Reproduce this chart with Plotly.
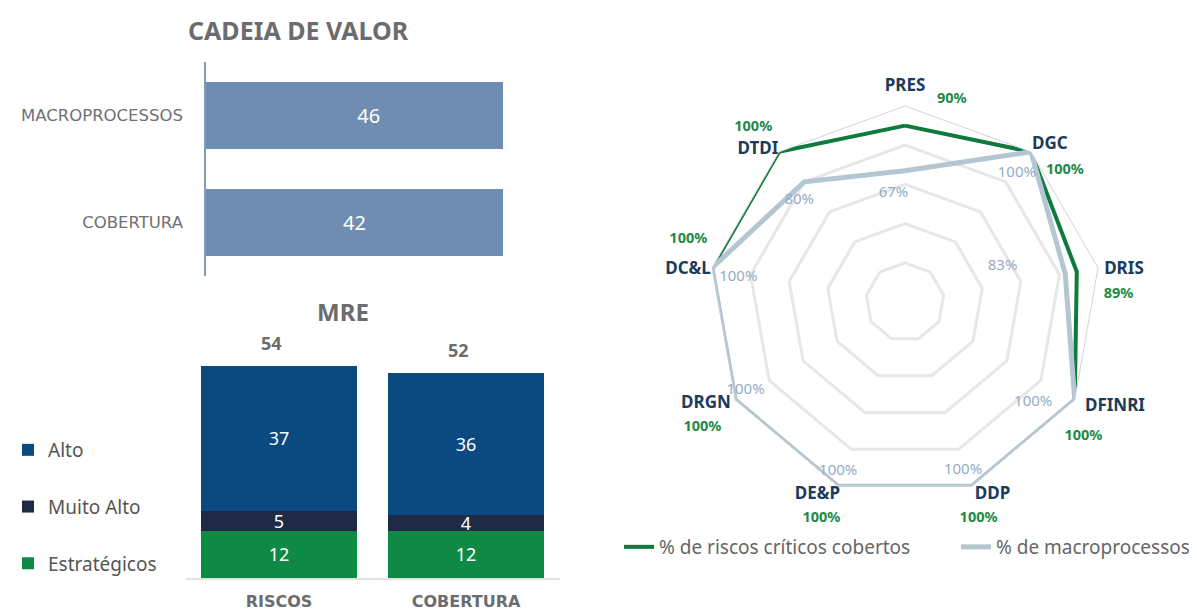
import plotly.graph_objects as go

# ---------------- data ----------------
cadeia_categories = ["MACROPROCESSOS", "COBERTURA"]
cadeia_values = [46, 42]

mre_categories = ["RISCOS", "COBERTURA"]
mre_estrategicos = [12, 12]
mre_muito_alto = [5, 4]
mre_alto = [37, 36]
mre_totals = [54, 52]

radar_categories = ["PRES", "DGC", "DRIS", "DFINRI", "DDP", "DE&P", "DRGN", "DC&L", "DTDI"]
riscos_criticos = [90, 100, 89, 100, 100, 100, 100, 100, 100]
macroprocessos = [67, 100, 83, 100, 100, 100, 100, 100, 80]

# ---------------- label placement (style) ----------------
cat_label_r = [110, 109, 112.9, 119.8, 108.2, 108.2, 114.1, 111.9, 108]
cat_label_theta = [0, 42.7, 81.7, 116.6, 155.6, 204.4, 242.9, 278.4, 316]
green_label_r = [106, 105.6, 109, 114, 116.5, 118.5, 121.5, 115, 118]
green_label_theta = [13, 50.6, 88, 127, 161.2, 201.1, 238.3, 286, 319]
blue_label_r = [56, 87, 53, 83, 91, 93, 93, 86, 75]
blue_label_theta = [354, 41, 70, 128, 161, 201.5, 241, 278.5, 314]

FONT = "Noto Sans, Open Sans, sans-serif"
WIDE = "DejaVu Sans, Noto Sans, sans-serif"
GRAY = "#6b6c6f"

# page body has an 8px margin: figure is placed at (8, 8)
OX, OY = 8, 8
FW, FH = 1189, 602


def px(x):
    return (x - OX) / FW


def py(y):
    return 1 - (y - OY) / FH


fig = go.Figure()

# ---- CADEIA DE VALOR (horizontal bars) ----
fig.add_trace(go.Bar(
    x=cadeia_values, y=cadeia_categories, orientation="h",
    xaxis="x", yaxis="y", width=0.63,
    marker=dict(color="#6f8db0", line=dict(width=0)),
    text=[str(v) for v in cadeia_values], textposition="inside",
    insidetextanchor="middle", constraintext="none", textangle=0,
    textfont=dict(color="white", size=20, family=FONT),
    showlegend=False, hoverinfo="skip", cliponaxis=True,
))

# ---- MRE (stacked bars) ----
mre_series = [
    ("Estratégicos", mre_estrategicos, "#0f8a45", 3),
    ("Muito Alto", mre_muito_alto, "#1f2a44", 2),
    ("Alto", mre_alto, "#0a4a80", 1),
]
for name, vals, color, rank in mre_series:
    fig.add_trace(go.Bar(
        x=mre_categories, y=vals, name=name, xaxis="x2", yaxis="y2",
        width=0.834, marker=dict(color=color, line=dict(width=0)),
        text=[str(v) for v in vals], textposition="inside",
        insidetextanchor="middle", constraintext="none", textangle=0,
        textfont=dict(color="white", size=18, family=FONT),
        legend="legend", legendgroup=name, legendrank=rank, hoverinfo="skip",
    ))

# ---- Radar ----
theta_closed = radar_categories + [radar_categories[0]]
fig.add_trace(go.Scatterpolar(
    r=riscos_criticos + [riscos_criticos[0]], theta=theta_closed,
    subplot="polar", mode="lines", name="% de riscos críticos cobertos",
    line=dict(color="#0e7a3d", width=4), legend="legend2",
))
fig.add_trace(go.Scatterpolar(
    r=macroprocessos + [macroprocessos[0]], theta=theta_closed,
    subplot="polar", mode="lines", name="% de macroprocessos",
    line=dict(color="#b3c6d2", width=5), legend="legend2",
))

fig.add_trace(go.Scatterpolar(
    r=cat_label_r, theta=cat_label_theta, subplot="polar2", mode="text",
    text=radar_categories, textposition="middle center",
    textfont=dict(color="#1b3a5c", size=17, family=FONT, weight="bold"),
    showlegend=False, cliponaxis=False, hoverinfo="skip",
))
fig.add_trace(go.Scatterpolar(
    r=green_label_r, theta=green_label_theta, subplot="polar2", mode="text",
    text=[f"{v}%" for v in riscos_criticos], textposition="middle center",
    textfont=dict(color="#1d8a46", size=14.5, family=FONT, weight="bold"),
    showlegend=False, cliponaxis=False, hoverinfo="skip",
))
fig.add_trace(go.Scatterpolar(
    r=blue_label_r, theta=blue_label_theta, subplot="polar2", mode="text",
    text=[f"{v}%" for v in macroprocessos], textposition="middle center",
    textfont=dict(color="#93acc5", size=15, family=FONT),
    showlegend=False, cliponaxis=False, hoverinfo="skip",
))

# ---- annotations ----
annotations = [
    dict(text="<b>CADEIA DE VALOR</b>", x=px(298), y=py(30), xref="paper", yref="paper",
         xanchor="center", yanchor="middle", showarrow=False,
         font=dict(size=25, color=GRAY, family=FONT)),
    dict(text="<b>MRE</b>", x=px(343), y=py(311), xref="paper", yref="paper",
         xanchor="center", yanchor="middle", showarrow=False,
         font=dict(size=24, color=GRAY, family=FONT)),
]
for cat, tot in zip(mre_categories, mre_totals):
    annotations.append(dict(
        text=f"<b>{tot}</b>", x=cat, y=tot, xref="x2", yref="y2", showarrow=False,
        xanchor="center", yanchor="middle",
        yshift=23, xshift=-8, font=dict(size=18, color=GRAY, family=FONT)))

CX, CY, R = 905, 302, 196
R2 = R * 1.3
polar_domain = dict(x=[px(CX - R), px(CX + R)], y=[py(CY + R), py(CY - R)])
polar2_domain = dict(x=[px(CX - R2), px(CX + R2)], y=[py(CY + R2), py(CY - R2)])

fig.update_layout(
    width=FW, height=FH, margin=dict(l=0, r=0, t=0, b=0, autoexpand=False),
    paper_bgcolor="white", plot_bgcolor="white",
    barmode="stack", font=dict(family=FONT, color=GRAY),
    annotations=annotations,
    xaxis=dict(domain=[px(206), px(503)], range=[0, 42], visible=False, anchor="y"),
    yaxis=dict(domain=[py(276), py(62)], anchor="x", autorange="reversed",
               showline=True, linecolor="#7f9dbb", linewidth=1.5, ticks="",
               showgrid=False, zeroline=False, ticklabelstandoff=18,
               tickfont=dict(size=16.5, color="#707174", family=WIDE)),
    xaxis2=dict(domain=[px(185.5), px(559.5)], anchor="y2", showline=True,
                linecolor="#e2e2e2", linewidth=2, ticks="", showgrid=False,
                ticklabelstandoff=8,
                tickfont=dict(size=16, color=GRAY, family=WIDE, weight="bold")),
    yaxis2=dict(domain=[py(578), py(342)], range=[0, 60], visible=False, anchor="x2"),
    polar=dict(
        domain=polar_domain, gridshape="linear", bgcolor="rgba(0,0,0,0)",
        radialaxis=dict(range=[0, 100], dtick=20, showticklabels=False, ticks="",
                        showline=False, gridcolor="#e7e7e7", gridwidth=2.5),
        angularaxis=dict(direction="clockwise", rotation=90, showgrid=False,
                         linecolor="#d4d4d4", linewidth=1, ticks="",
                         showticklabels=False),
    ),
    polar2=dict(
        domain=polar2_domain, bgcolor="rgba(0,0,0,0)",
        radialaxis=dict(range=[0, 130], visible=False),
        angularaxis=dict(direction="clockwise", rotation=90, visible=False, thetaunit="degrees"),
    ),
    legend=dict(x=0.0, y=py(431), xanchor="left", yanchor="top",
                traceorder="grouped", tracegroupgap=29, itemwidth=30,
                font=dict(size=19, color="#555555", family=FONT), bgcolor="rgba(0,0,0,0)"),
    legend2=dict(x=px(619), y=py(547), xanchor="left", yanchor="middle",
                 orientation="h", entrywidth=292, itemwidth=30,
                 font=dict(size=19, color="#666666", family=FONT), bgcolor="rgba(0,0,0,0)"),
)

fig.write_html("out.html")
